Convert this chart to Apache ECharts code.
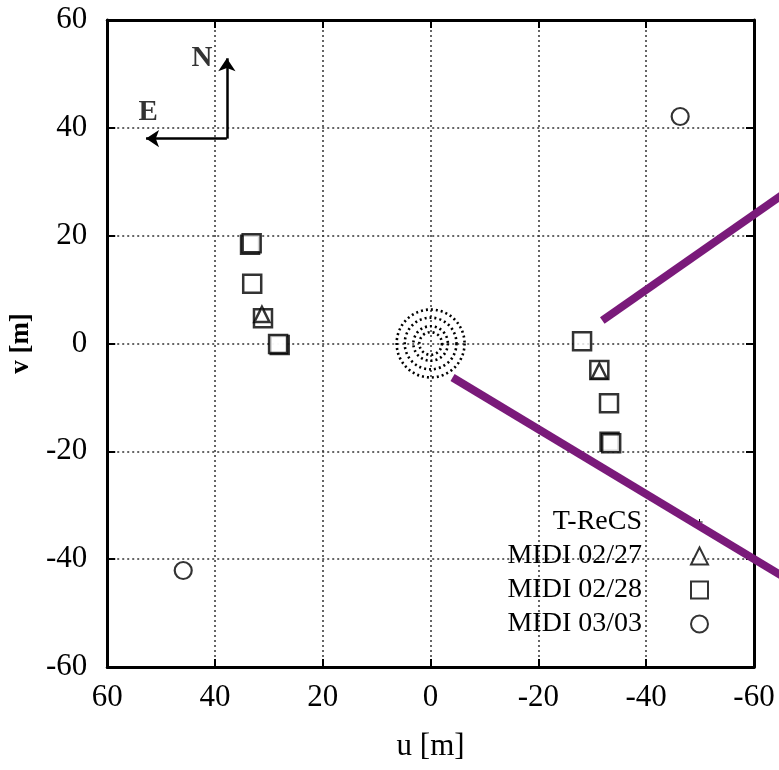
<!DOCTYPE html>
<html><head><meta charset="utf-8">
<script src="https://cdn.jsdelivr.net/npm/echarts@6/dist/echarts.min.js"></script>
<style>html,body{margin:0;padding:0;background:#fff}#c{width:779px;height:770px}</style>
</head><body><div id="c"></div>
<script>
// ---- data ----
const trecsRings = [2.1, 3.2, 4.8, 6.3];            // T-ReCS ring radii [m]
const midi0227 = [[31.3, 5.4], [-31.3, -5.1]];
const midi0228 = [[33.5, 18.3], [33.2, 18.6], [33.1, 11.1], [31.1, 4.7], [28.0, -0.3], [28.3, -0.1],
                  [-28.1, 0.4], [-31.3, -4.9], [-33.1, -11.1], [-33.2, -18.2], [-33.5, -18.5]];
const midi0303 = [[-46.3, 42.1], [45.9, -42.1]];
const purpleLines = [[[-31.85, 4.27], [-70, 30.9]], [[-4.07, -6.31], [-70, -46.0]]];
const compassArrows = [[[37.8, 38.0], [37.8, 52.9]], [[37.8, 38.0], [52.8, 38.0]]];
const compassLabels = [['N', 42.4, 52.9], ['E', 52.4, 42.9]];
const legendNames = ['T-ReCS', 'MIDI 02/27', 'MIDI 02/28', 'MIDI 03/03'];

const FONT = 'Liberation Serif';
const chart = echarts.init(document.getElementById('c'), null, {renderer: 'canvas'});
const markerStyle = {color: '#fff', borderColor: '#000', borderWidth: 2.5};
const axisCommon = {
  type: 'value', min: -60, max: 60, interval: 20,
  axisLine: {show: true, onZero: false, lineStyle: {color: '#000', width: 3}},
  axisTick: {show: true, inside: true, length: 8, lineStyle: {color: '#000', width: 2}}
};
const labelStyle = {fontFamily: FONT, fontSize: 31, color: '#000'};

chart.setOption({
  animation: false,
  backgroundColor: '#fff',
  grid: {left: 106, right: 25, top: 20, bottom: 103},
  xAxis: [
    Object.assign({}, axisCommon, {
      inverse: true, position: 'bottom',
      axisLabel: Object.assign({margin: 15}, labelStyle),
      splitLine: {show: true, lineStyle: {color: '#333', type: [2, 3], width: 1.5}},
      name: 'u [m]', nameLocation: 'middle', nameGap: 64,
      nameTextStyle: {fontFamily: FONT, fontSize: 31, color: '#000'}
    }),
    Object.assign({}, axisCommon, {
      inverse: true, position: 'top', axisLabel: {show: false}, splitLine: {show: false}
    })
  ],
  yAxis: [
    Object.assign({}, axisCommon, {
      position: 'left',
      axisLabel: Object.assign({margin: 20}, labelStyle),
      splitLine: {show: true, lineStyle: {color: '#333', type: [2, 3], width: 1.5}},
      name: 'v [m]', nameLocation: 'middle', nameGap: 70, nameRotate: 90,
      nameTextStyle: {fontFamily: FONT, fontSize: 27, fontWeight: 'bold', color: '#000'}
    }),
    Object.assign({}, axisCommon, {
      position: 'right', axisLabel: {show: false}, splitLine: {show: false}
    })
  ],
  legend: {
    orient: 'vertical', right: 70, top: 508, align: 'right', padding: 0,
    itemWidth: 17, itemHeight: 17, itemGap: 6, selectedMode: false,
    textStyle: {fontFamily: FONT, fontSize: 28, lineHeight: 28, color: '#000', padding: [0, 44, 0, 0]},
    data: [
      {name: legendNames[0], icon: 'path://M0,0M30,30M14.1,9.5h1.8v4.6h4.6v1.8h-4.6v4.6h-1.8v-4.6h-4.6v-1.8h4.6z',
       itemStyle: {color: '#000', borderWidth: 0}},
      legendNames[1], legendNames[2], legendNames[3]
    ]
  },
  series: [
    {
      name: legendNames[0], type: 'custom', xAxisIndex: 0, yAxisIndex: 0,
      itemStyle: {color: '#000'},
      data: trecsRings.map(r => [0, 0, r]),
      renderItem: function (params, api) {
        const c = api.coord([api.value(0), api.value(1)]);
        const r = Math.abs(api.size([api.value(2), 0])[0]);
        return {type: 'circle', shape: {cx: c[0], cy: c[1], r: r},
                style: {fill: 'none', stroke: '#000', lineWidth: 2.6, lineDash: [2, 3]}};
      },
      silent: true
    },
    {name: legendNames[2], type: 'scatter', symbol: 'rect', symbolSize: 18, itemStyle: markerStyle, data: midi0228, silent: true},
    {name: legendNames[1], type: 'scatter', symbol: 'triangle', symbolSize: 15, itemStyle: markerStyle, data: midi0227, silent: true},
    {name: legendNames[3], type: 'scatter', symbol: 'circle', symbolSize: 17, itemStyle: Object.assign({}, markerStyle, {borderWidth: 2.2}), data: midi0303, silent: true},
    {
      type: 'lines', coordinateSystem: 'cartesian2d', clip: false, silent: true,
      lineStyle: {color: '#7a1a7a', width: 8, opacity: 1, cap: 'butt'},
      data: purpleLines.map(c => ({coords: c})), z: 5
    },
    {
      type: 'lines', coordinateSystem: 'cartesian2d', clip: false, silent: true,
      symbol: ['none', 'arrow'], symbolSize: 13,
      lineStyle: {color: '#000', width: 2.5, opacity: 1},
      data: compassArrows.map(c => ({coords: c}))
    },
    {
      type: 'scatter', symbolSize: 1, itemStyle: {color: 'rgba(0,0,0,0)'}, silent: true,
      data: compassLabels.map(d => ({name: d[0], value: [d[1], d[2]]})),
      label: {show: true, position: 'inside', formatter: '{b}',
              fontFamily: FONT, fontSize: 29, fontWeight: 'bold', color: '#000'}
    }
  ]
});
</script></body></html>
